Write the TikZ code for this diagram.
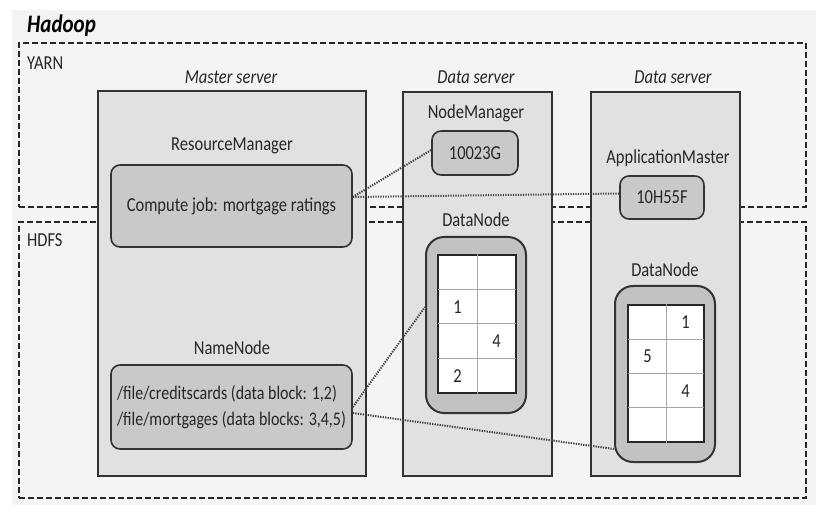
\documentclass[tikz,border=0pt]{standalone}
\usepackage{fontspec}
\setmainfont{Carlito}
\definecolor{panel}{HTML}{F4F4F4}
\definecolor{srvgray}{HTML}{E1E1E1}
\definecolor{jobgray}{HTML}{C9C9C9}
\definecolor{dngray}{HTML}{C2C2C2}
\newcommand\tx[1]{\scalebox{1}[1.2]{#1}}
\begin{document}
\begin{tikzpicture}[x=1pt,y=-1pt,
  box/.style={draw=black!80, line width=1.6pt, inner sep=0pt},
  server/.style={box, fill=srvgray},
  job/.style={box, fill=jobgray, rounded corners=9pt, text=black!85, font=\fontsize{16.5}{19}\selectfont},
  dnode/.style={box, line width=2pt, fill=dngray, rounded corners=18pt},
  layer/.style={draw=black!85, line width=1.4pt, dash pattern=on 6pt off 3pt, inner sep=0pt},
  grid/.style={draw=black!85, line width=1.6pt, fill=white, inner sep=0pt},
  cell/.style={draw=black!35, line width=1pt},
  lbl/.style={inner sep=0pt, text=black!85, font=\fontsize{16.5}{19}\selectfont},
  title/.style={inner sep=0pt, text=black!85, font=\fontsize{16.5}{19}\selectfont\itshape},
  link/.style={draw=black!75, line width=2pt, dash pattern=on 1.3pt off 1.2pt}]
\useasboundingbox[fill=white] (0,0) rectangle (831,513);
\fill[panel] (12,10) rectangle (816,505);

\node[inner sep=0pt, anchor=west, font=\fontsize{21}{26}\selectfont\bfseries\itshape] (hadoop) at (27,26) {\tx{Hadoop}};
\node[layer, minimum width=787, minimum height=164] (yarn) at (412.5,125) {};
\node[layer, minimum width=787, minimum height=276] (hdfs) at (412.5,360) {};
\node[lbl, anchor=west] (yarnlbl) at (27,63) {\tx{YARN}};
\node[lbl, anchor=west] (hdfslbl) at (27,240) {\tx{HDFS}};

\node[server, minimum width=268, minimum height=385] (master) at (232,283.5) {};
\node[server, minimum width=149, minimum height=384] (ds1) at (477.5,284) {};
\node[server, minimum width=149, minimum height=384] (ds2) at (665.5,284) {};
\node[title] (mastlbl) at (231,77) {\tx{Master server}};
\node[title] (ds1lbl) at (476,77) {\tx{Data server}};
\node[title] (ds2lbl) at (673,77) {\tx{Data server}};

\node[lbl] (rmlbl) at (232,146) {\tx{ResourceManager}};
\node[job, minimum width=241, minimum height=82] (job) at (231.5,206) {\tx{Compute job: mortgage ratings}};
\node[lbl] (nnlbl) at (232,348) {\tx{NameNode}};
\node[job, minimum width=241, minimum height=84, font=\fontsize{16}{21.6}\selectfont] (nn) at (231.5,407) {\tx{\begin{tabular}{@{}l@{}}/file/creditscards (data block: 1,2)\\/file/mortgages (data blocks: 3,4,5)\end{tabular}}};

\node[lbl] (nmlbl) at (476,113) {\tx{NodeManager}};
\node[job, minimum width=86, minimum height=44] (nm) at (475,153) {\tx{10023G}};
\node[lbl] (amlbl) at (668,158) {\tx{ApplicationMaster}};
\node[job, minimum width=84, minimum height=43] (am) at (662,197.5) {\tx{10H55F}};

\node[lbl] (dn1lbl) at (476,220) {\tx{DataNode}};
\node[dnode, minimum width=100, minimum height=176] (dn1) at (476,325) {};
\node[grid, minimum width=78, minimum height=138] (g1) at (477,324) {};
\foreach \y in {289.5,324,358.5} \draw[cell] (438,\y) -- (516,\y);
\draw[cell] (g1.north) -- (g1.south);
\node[lbl] (b11) at (457.5,307) {\tx{1}};
\node[lbl] (b14) at (496.5,341) {\tx{4}};
\node[lbl] (b12) at (457.5,376) {\tx{2}};

\node[lbl] (dn2lbl) at (665,270) {\tx{DataNode}};
\node[dnode, minimum width=100, minimum height=176] (dn2) at (665,374) {};
\node[grid, minimum width=76, minimum height=137] (g2) at (666,373.5) {};
\foreach \y in {339.5,374,408} \draw[cell] (628,\y) -- (704,\y);
\draw[cell] (g2.north) -- (g2.south);
\node[lbl] (b21) at (685.5,322) {\tx{1}};
\node[lbl] (b25) at (647.5,356.5) {\tx{5}};
\node[lbl] (b24) at (685.5,391) {\tx{4}};

\draw[link] ([yshift=9pt]job.east) -- ([yshift=3pt]nm.west);
\draw[link] ([yshift=9pt]job.east) -- ([yshift=4pt]am.west);
\draw[link] (nn.east) -- ([yshift=18pt]dn1.west);
\draw[link] ([yshift=-6pt]nn.east) -- ([yshift=-75pt]dn2.west);
\end{tikzpicture}
\end{document}
